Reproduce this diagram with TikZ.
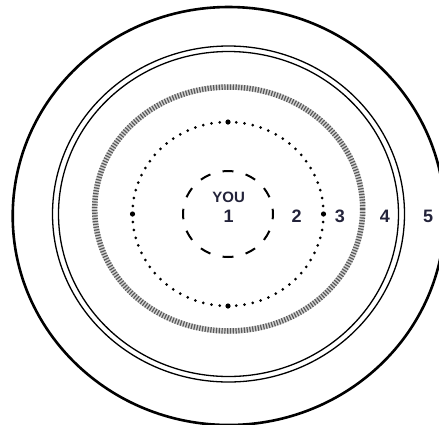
\documentclass[tikz,border=0pt]{standalone}
\usepackage{fontspec}
\setmainfont{Liberation Sans}
\usepackage{tikz}
\usetikzlibrary{positioning}
\definecolor{labelnavy}{HTML}{23233A}
\tikzset{
  ringnum/.style={font=\bfseries\fontsize{18}{18}\selectfont, text=labelnavy, inner sep=0pt},
  dotmark/.style={fill=black, draw=none}
}

\begin{document}
\begin{tikzpicture}[x=1pt, y=-1pt]
    \useasboundingbox (0,0) rectangle (439,424);
    \clip (0,0) rectangle (439,424);
    \coordinate (c) at (228.5,214);

    % outer ring 5
    \draw[line width=2.6pt] (228.7,216) ellipse [x radius=216, y radius=209];

    % double ring 4
    \draw[line width=1.3pt] (c) ellipse [x radius=176, y radius=168];
    \draw[line width=1.3pt] (c) ellipse [x radius=170, y radius=162.5];

    % hatched ring 3
    \draw[line width=5.5pt, gray!35] (228.7,209) ellipse [x radius=134, y radius=122];
    \draw[line width=5.5pt, gray!70!black, dash pattern=on 1.2pt off 1.6pt] (228.7,209) ellipse [x radius=134, y radius=122];

    % dotted ring 2
    \foreach \a in {0,5,...,355}
        \fill (228,214) ++(\a:95.5 and 92) circle (1.5pt);
    \foreach \a in {0,90,180,270}
        \fill[dotmark] (228,214) ++(\a:95.5 and 92) circle (2.6pt);

    % dashed ring 1
    \foreach \a in {0,30,...,330}
        \draw[line width=2pt] (228,214) ++(\a-7:45 and 43) arc [start angle=\a-7, end angle=\a+7, x radius=45, y radius=43];

    \node[font=\bfseries\fontsize{15}{15}\selectfont, text=labelnavy, inner sep=0pt] (you) at (228.7,197) {YOU};
    \node[ringnum] (one) at (228.7,216) {1};
    \node[ringnum] (two) at (296.7,216) {2};
    \node[ringnum] (three) at (340,216) {3};
    \node[ringnum] (four) at (385,216) {4};
    \node[ringnum] (five) at (428,216) {5};
\end{tikzpicture}
\end{document}
